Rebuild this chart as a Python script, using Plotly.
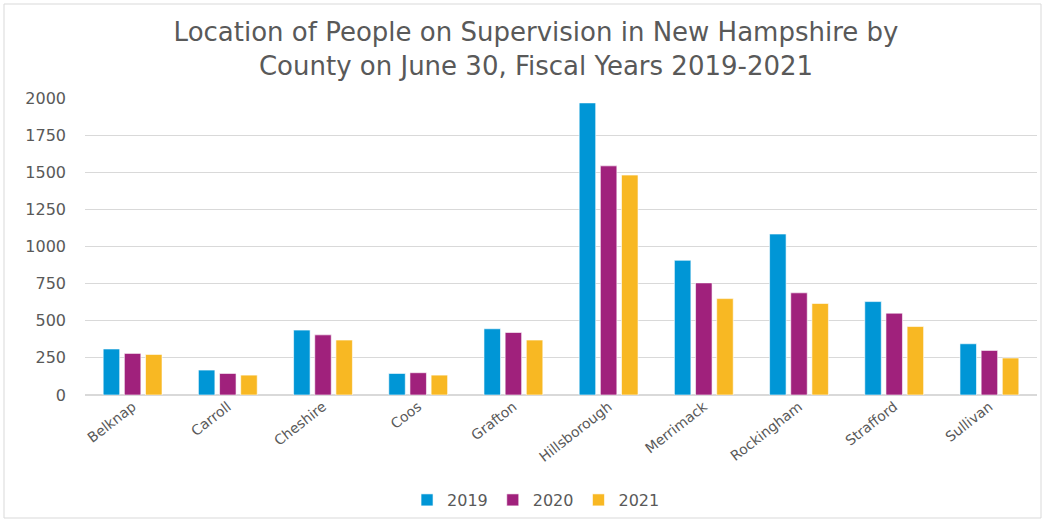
import plotly.graph_objects as go

counties = ["Belknap", "Carroll", "Cheshire", "Coos", "Grafton",
            "Hillsborough", "Merrimack", "Rockingham", "Strafford", "Sullivan"]
fy2019 = [310, 168, 437, 145, 446, 1967, 907, 1084, 629, 345]
fy2020 = [280, 145, 405, 150, 421, 1543, 755, 688, 551, 300]
fy2021 = [273, 134, 370, 134, 370, 1481, 649, 616, 461, 249]
years = ["2019", "2020", "2021"]
colors = ["#0096D6", "#A0217C", "#F8B823"]

W, H = 1049, 522
ML, MR, MT, MB = 85, 12, 98, 127
font = "DejaVu Sans"
grey = "#595959"

fig = go.Figure()
for name, vals, col in zip(years, [fy2019, fy2020, fy2021], colors):
    fig.add_trace(go.Bar(
        x=counties, y=vals, name=name,
        marker=dict(color=col, line=dict(color="rgba(255,255,255,0.6)", width=1)),
    ))

pw = W - ML - MR
ph = H - MT - MB
# light frame around the whole chart
fig.add_shape(type="rect", xref="paper", yref="paper",
              x0=(4 - ML) / pw, x1=(1041 - ML) / pw,
              y0=(H - MB - 518) / ph, y1=(H - MB - 4) / ph,
              line=dict(color="#D9D9D9", width=1), fillcolor="rgba(0,0,0,0)",
              layer="below")

fig.update_layout(
    width=W, height=H,
    margin=dict(l=ML, r=MR, t=MT, b=MB, autoexpand=False),
    paper_bgcolor="white", plot_bgcolor="white",
    barmode="group", bargap=0.333, bargroupgap=0.22,
    title=dict(
        text="Location of People on Supervision in New Hampshire by<br>County on June 30, Fiscal Years 2019-2021",
        x=0.511, xanchor="center", y=1 - 41 / H, yanchor="middle",
        font=dict(family=font, size=26, color=grey),
    ),
    font=dict(family=font, color=grey),
    xaxis=dict(
        tickangle=-38, tickfont=dict(family=font, size=14, color=grey),
        showline=False, ticks="", automargin=False,
    ),
    yaxis=dict(
        range=[0, 2000], tickvals=list(range(0, 2001, 250)),
        showgrid=True, gridcolor="#D9D9D9", zeroline=True, zerolinecolor="#D9D9D9",
        tickfont=dict(family=font, size=16, color=grey), ticks="",
        ticklabelstandoff=18, automargin=False,
    ),
    legend=dict(
        orientation="h", x=0.511, xanchor="center", xref="container",
        y=1 - 500 / H, yanchor="middle", yref="container",
        font=dict(family=font, size=16, color=grey),
        itemwidth=30, traceorder="normal",
    ),
)

fig.write_html("out.html")
